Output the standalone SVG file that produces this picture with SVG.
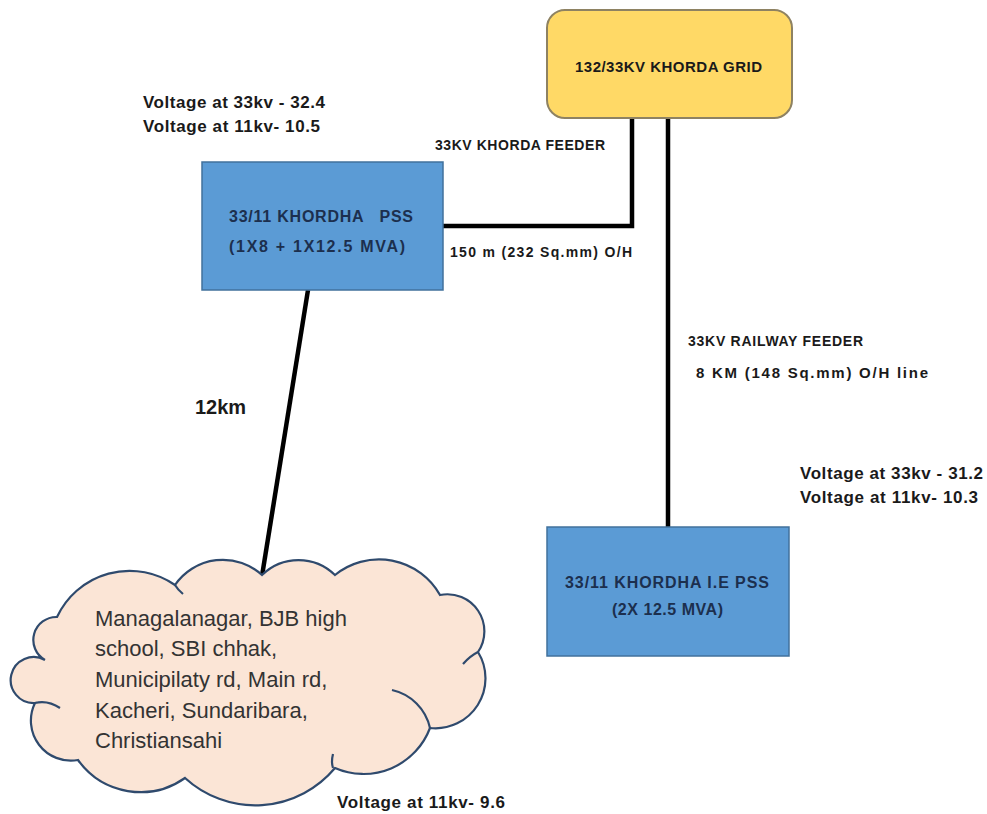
<svg xmlns="http://www.w3.org/2000/svg" width="987" height="814" viewBox="0 0 987 814">
<style>
.bg{fill:#ffffff}
.line{stroke:#000;stroke-width:4.5;fill:none;stroke-linecap:butt}
.pss{fill:#5B9BD5;stroke:#41719C;stroke-width:1.5}
.grid{fill:#FFD966;stroke:#8E8262;stroke-width:2}
.cloud{fill:#FBE5D6;stroke:#2F4A6D;stroke-width:2.2}
.inner{fill:none;stroke:#2F4A6D;stroke-width:2.2}
.lbl{font-family:"Liberation Sans",Arial,sans-serif;font-weight:bold;fill:#1a1a1a}
.box{font-family:"Liberation Sans",Arial,sans-serif;font-weight:bold;fill:#1C2F4E;font-size:16px}
.cl{font-family:"Liberation Sans",Arial,sans-serif;fill:#333333;font-size:22px}
</style>
<rect class="bg" x="0" y="0" width="987" height="814"/>
<g id="connectors">
<polyline class="line" points="632,118 632,226 443,226"/>
<line class="line" x1="668" y1="118" x2="668" y2="527"/>
<line class="line" x1="308" y1="290" x2="262" y2="576"/>
</g>
<g id="grid">
<rect class="grid" x="547" y="10" width="245" height="108" rx="18" ry="18"/>
<text class="lbl" x="575" y="72" font-size="15" textLength="187" fill="#2b2510">132/33KV KHORDA GRID</text>
</g>
<g id="khordha-pss">
<rect class="pss" x="202" y="162" width="241" height="128"/>
<text class="box" x="229" y="222" textLength="184">33/11 KHORDHA &#160; PSS</text>
<text class="box" x="229" y="252" textLength="176">(1X8 + 1X12.5 MVA)</text>
</g>
<g id="ie-pss">
<rect class="pss" x="547" y="527" width="242" height="129"/>
<text class="box" x="565" y="588" textLength="204">33/11 KHORDHA I.E PSS</text>
<text class="box" x="612" y="615" textLength="111">(2X 12.5 MVA)</text>
</g>
<g id="area-cloud">
<path class="cloud" d="M57,617 A80,80 0 0 1 175,585 A58,58 0 0 1 262,575 A52,52 0 0 1 335,575 A70,70 0 0 1 440,595 A37,37 0 0 1 478,652 A50,50 0 0 1 430,728 A71,71 0 0 1 335,768 A104,104 0 0 1 185,778 A77,77 0 0 1 78,760 A40,40 0 0 1 35,703 A23,23 0 1 1 45,660 A23,23 0 0 1 57,617 Z"/>
<path class="inner" d="M392,690 A50,50 0 0 1 430,728"/>
<path class="inner" d="M35,703 Q48,700 60,708"/>
<path class="inner" d="M333,768 Q331,762 333,754"/>
<path class="inner" d="M478,652 Q470,656 463,664"/>
<path class="inner" d="M175,585 Q178,590 183,594"/>
<text class="cl" x="95" y="626">Managalanagar, BJB high</text>
<text class="cl" x="95" y="656">school, SBI chhak,</text>
<text class="cl" x="95" y="687">Municipilaty rd, Main rd,</text>
<text class="cl" x="95" y="718">Kacheri, Sundaribara,</text>
<text class="cl" x="95" y="748">Christiansahi</text>
</g>
<g id="labels">
<text class="lbl" x="143" y="108" font-size="17" textLength="182">Voltage at 33kv - 32.4</text>
<text class="lbl" x="143" y="132" font-size="17" textLength="177">Voltage at 11kv- 10.5</text>
<text class="lbl" x="435" y="150" font-size="14" textLength="170">33KV KHORDA FEEDER</text>
<text class="lbl" x="450" y="257" font-size="14" textLength="182">150 m (232 Sq.mm) O/H</text>
<text class="lbl" x="688" y="346" font-size="14" textLength="175">33KV RAILWAY FEEDER</text>
<text class="lbl" x="696" y="378" font-size="15" textLength="232">8 KM (148 Sq.mm) O/H line</text>
<text class="lbl" x="800" y="479" font-size="17" textLength="183">Voltage at 33kv - 31.2</text>
<text class="lbl" x="800" y="503" font-size="17" textLength="178">Voltage at 11kv- 10.3</text>
<text class="lbl" x="195" y="414" font-size="20">12km</text>
<text class="lbl" x="337" y="808" font-size="17" textLength="168">Voltage at 11kv- 9.6</text>
</g>
</svg>
